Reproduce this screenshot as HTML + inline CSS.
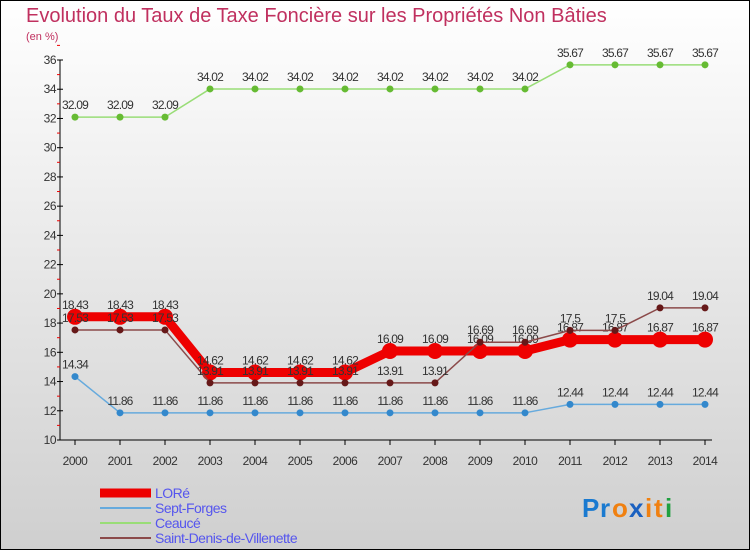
<!DOCTYPE html>
<html><head><meta charset="utf-8"><style>
body{margin:0}
#c{width:750px;height:550px;position:relative;overflow:hidden}
svg text{font-family:"Liberation Sans",sans-serif}
</style></head><body>
<div id="c">
<svg id="s" width="750" height="550" xmlns="http://www.w3.org/2000/svg">
<defs><linearGradient id="bg" x1="0" y1="0" x2="0" y2="1"><stop offset="0" stop-color="#ffffff"/><stop offset="1" stop-color="#cfcfcf"/></linearGradient></defs>
<rect x="0.5" y="0.5" width="749" height="549" fill="url(#bg)" stroke="#000"/>
<text x="26" y="22" font-size="20" fill="#c0305f">Evolution du Taux de Taxe Foncière sur les Propriétés Non Bâties</text>
<text x="26" y="40" font-size="11" fill="#c0305f">(en %)</text>
<g id="axes"></g><g id="series"></g><g id="legend"></g>
<g font-size="26" font-weight="bold" font-family="Liberation Sans,sans-serif">
<text x="582" y="517" fill="#1a7ad0" font-family="Liberation Sans,sans-serif">P</text>
<text x="600" y="517" fill="#1a7ad0">r</text>
<text x="612" y="517" fill="#f08010">o</text>
<text x="629" y="517" fill="#1a60c0">x</text>
<text x="645" y="517" fill="#f08010">i</text>
<text x="654" y="517" fill="#f08010">t</text>
<text x="665" y="517" fill="#20a040">i</text>
</g>
</svg>
</div>
<script>
const years=[2000,2001,2002,2003,2004,2005,2006,2007,2008,2009,2010,2011,2012,2013,2014];
const yTicks=[10,12,14,16,18,20,22,24,26,28,30,32,34,36];
const lore=[18.43,18.43,18.43,14.62,14.62,14.62,14.62,16.09,16.09,16.09,16.09,16.87,16.87,16.87,16.87];
const septForges=[14.34,11.86,11.86,11.86,11.86,11.86,11.86,11.86,11.86,11.86,11.86,12.44,12.44,12.44,12.44];
const ceauce=[32.09,32.09,32.09,34.02,34.02,34.02,34.02,34.02,34.02,34.02,34.02,35.67,35.67,35.67,35.67];
const saintDenis=[17.53,17.53,17.53,13.91,13.91,13.91,13.91,13.91,13.91,16.69,16.69,17.5,17.5,19.04,19.04];
const seriesNames=["LORé","Sept-Forges","Ceaucé","Saint-Denis-de-Villenette"];
const NS="http://www.w3.org/2000/svg";
const X=i=>75+i*45, Y=v=>60+(36-v)*380/26;
function mk(tag,attrs,parent){const e=document.createElementNS(NS,tag);for(const k in attrs)e.setAttribute(k,attrs[k]);parent.appendChild(e);return e;}
const ax=document.getElementById('axes');
let e=mk('line',{x1:60,y1:60,x2:60,y2:440,stroke:'#000'},ax);


e=mk('line',{x1:60,y1:440,x2:712,y2:440,stroke:'#000'},ax);


yTicks.forEach(v=>{
 mk('line',{x1:57,y1:Y(v),x2:63,y2:Y(v),stroke:'#000'},ax);
 mk('line',{x1:57,y1:Y(v+1),x2:60,y2:Y(v+1),stroke:'#e00'},ax);
 const t=mk('text',{x:56,y:Y(v)+4,'font-size':12,fill:'#333','text-anchor':'end','letter-spacing':'-0.5'},ax);t.textContent=v;
 
 
});
years.forEach((yr,i)=>{
 mk('line',{x1:X(i),y1:440,x2:X(i),y2:445,stroke:'#000'},ax);
 const t=mk('text',{x:X(i),y:465,'font-size':12,fill:'#333','text-anchor':'middle','letter-spacing':'-0.5'},ax);t.textContent=yr;
 
 
});
const sg=document.getElementById('series');
const defs=[[ceauce,'#99dd77','#66bb33',1.5,3.5],[septForges,'#66aadd','#3388cc',1.5,3.5],[lore,'#ee0000','#ee0000',9,8],[saintDenis,'#8b4a4a','#661818',1.5,3.5]];
const names=['series-ceauce','series-sept-forges','series-lore','series-saint-denis'];
defs.forEach((d,k)=>{
 const g=mk('g',{},sg);
 
 
 mk('polyline',{points:d[0].map((v,i)=>X(i)+','+Y(v)).join(' '),fill:'none',stroke:d[1],'stroke-width':d[3],'stroke-linejoin':'round'},g);
 d[0].forEach((v,i)=>{
  const c=mk('circle',{cx:X(i),cy:Y(v),r:d[4],fill:d[2]},g);
  
  
  const t=mk('text',{x:X(i),y:Y(v)-8,'font-size':12,fill:'#333','text-anchor':'middle','letter-spacing':'-0.8'},g);t.textContent=v;
  
  
 });
});
const lg=document.getElementById('legend');
const lc=['#ee0000','#66aadd','#99dd77','#8b4a4a'],lw=[9,2,2,2];
seriesNames.forEach((n,k)=>{
 const y=493+k*15;
 const g=mk('g',{},lg);
 
 
 mk('line',{x1:100,y1:y,x2:151,y2:y,stroke:lc[k],'stroke-width':lw[k]},g);
 const t=mk('text',{x:155,y:y+5,'font-size':14,fill:'#5555ee','letter-spacing':'-0.5'},g);t.textContent=n;
});
</script>
</body></html>
